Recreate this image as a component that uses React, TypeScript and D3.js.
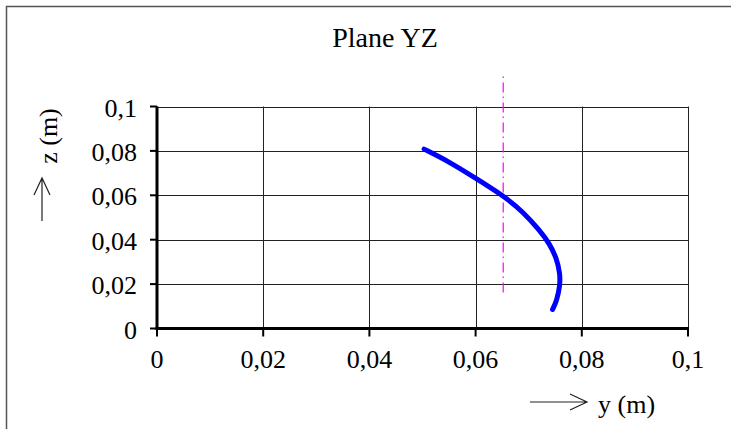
import React from "react";
import * as d3 from "d3";

// y (m) / z (m) of the traced path in plane YZ
const pathY = [0.0503, 0.0552, 0.0602, 0.0652, 0.069, 0.0721, 0.0739, 0.0753, 0.0759, 0.0759, 0.0753, 0.0745];
const pathZ = [0.0808, 0.0749, 0.0674, 0.0599, 0.0524, 0.0441, 0.0383, 0.0314, 0.0246, 0.0194, 0.0126, 0.0086];

// vertical reference (dash-dot)
const refY = 0.0652;
const refZ = [0.0162, 0.1135];

const tickValues = [0, 0.02, 0.04, 0.06, 0.08, 0.1];
const tickLabels = ["0", "0,02", "0,04", "0,06", "0,08", "0,1"];

const W = 731;
const H = 429;
const FONT = "'Liberation Serif', 'Times New Roman', serif";

function App() {
    const x = d3.scaleLinear().domain([0, 0.1]).range([157, 688]);
    const y = d3.scaleLinear().domain([0, 0.1]).range([328.5, 106.5]);

    const pts: [number, number][] = pathY.map((v, i) => [v, pathZ[i]]);
    const line = d3
        .line<[number, number]>()
        .x((d) => x(d[0]))
        .y((d) => y(d[1]))
        .curve(d3.curveBasis);

    const gridColor = "#222";

    return (
        <svg
            width={W}
            height={H}
            style={{ position: "absolute", left: 0, top: 0, background: "#fff" }}
            fontFamily={FONT}
        >
            {/* chart frame */}
            <path d={`M6.5,${H} V6.5 H${W}`} fill="none" stroke="#555" strokeWidth={1.5} />

            <text x={385} y={47} textAnchor="middle" fontSize={28} fill="#000">
                Plane YZ
            </text>

            {/* grid */}
            {tickValues.map((t, i) => (
                <g key={"g" + i}>
                    <line x1={x(0)} x2={x(0.1)} y1={Math.round(y(t)) + 0.5} y2={Math.round(y(t)) + 0.5} stroke={gridColor} strokeWidth={1} />
                    <line x1={Math.round(x(t)) + 0.5} x2={Math.round(x(t)) + 0.5} y1={y(0)} y2={y(0.1)} stroke={gridColor} strokeWidth={1} />
                </g>
            ))}

            {/* axes */}
            <line x1={x(0)} x2={x(0)} y1={y(0.1)} y2={y(0) + 1.5} stroke="#000" strokeWidth={3} />
            <line x1={x(0) - 1.5} x2={x(0.1) + 1} y1={y(0)} y2={y(0)} stroke="#000" strokeWidth={3} />
            {tickValues.map((t, i) => (
                <g key={"t" + i}>
                    <line x1={x(0) - 7} x2={x(0)} y1={y(t)} y2={y(t)} stroke="#000" strokeWidth={2} />
                    <line x1={x(t)} x2={x(t)} y1={y(0)} y2={y(0) + 8} stroke="#000" strokeWidth={2} />
                    <text x={137} y={y(t) + 10} textAnchor="end" fontSize={26} fill="#000">
                        {tickLabels[i]}
                    </text>
                    <text x={x(t)} y={368} textAnchor="middle" fontSize={26} fill="#000">
                        {tickLabels[i]}
                    </text>
                </g>
            ))}

            {/* dash-dot reference */}
            <line
                x1={x(refY)}
                x2={x(refY)}
                y1={y(refZ[1])}
                y2={y(refZ[0])}
                stroke="#ff00ff"
                strokeWidth={1.2}
                strokeDasharray="1.5,4.5,10,4"
            />

            {/* curve */}
            <path d={line(pts) || ""} fill="none" stroke="#0000ff" strokeWidth={5} strokeLinecap="round" strokeLinejoin="round" />

            {/* axis titles */}
            <g stroke="#222" strokeWidth={1.2} fill="none">
                <path d="M530,402 H587 M570,394 L587,402 L570,410" />
                <path d="M42,221 V178 M34,195 L42,178 L50,195" />
            </g>
            <text x={598} y={413} fontSize={26} fill="#000">
                y (m)
            </text>
            <text transform="translate(57,136) rotate(-90)" textAnchor="middle" fontSize={26} fill="#000">
                z (m)
            </text>
        </svg>
    );
}

export default App;
